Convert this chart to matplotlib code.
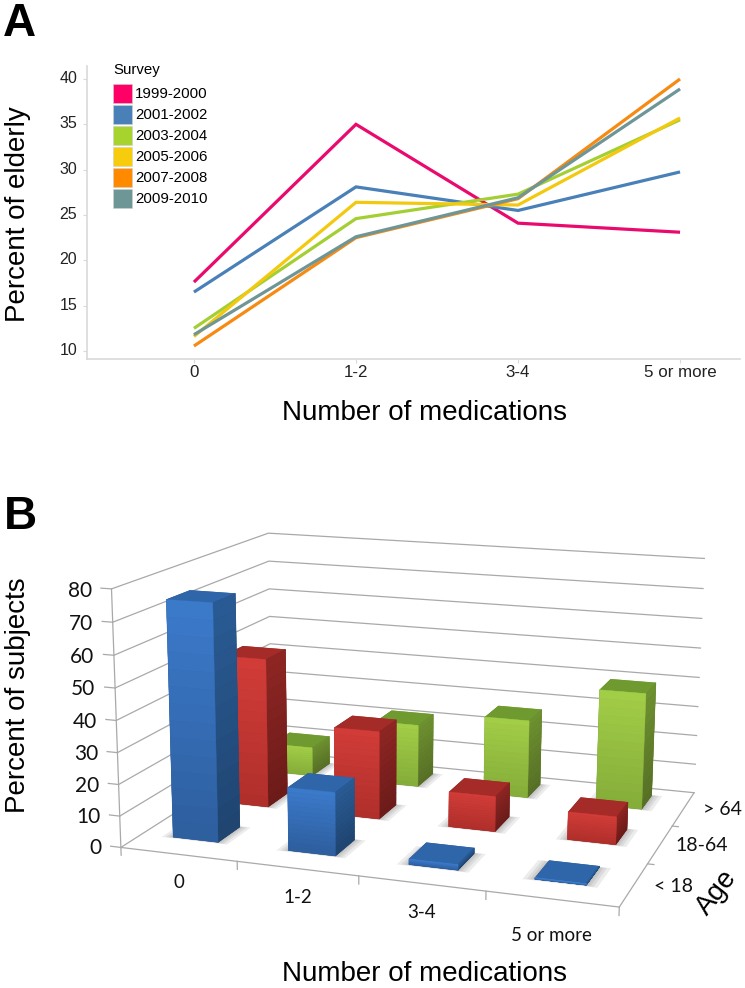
import numpy as np
import matplotlib
matplotlib.use('Agg')
import matplotlib.pyplot as plt
from matplotlib.patches import Patch
from matplotlib.colors import to_rgb
from matplotlib.transforms import ScaledTranslation
from mpl_toolkits.mplot3d import proj3d
from mpl_toolkits.mplot3d.art3d import Poly3DCollection

W, H = 745, 988

# ---------- data: panel A ----------
med_cats = ['0', '1-2', '3-4', '5 or more']
surveys = ['1999-2000', '2001-2002', '2003-2004', '2005-2006', '2007-2008', '2009-2010']
s1999 = [17.6, 35.0, 24.1, 23.1]
s2001 = [16.5, 28.1, 25.5, 29.75]
s2003 = [12.5, 24.6, 27.3, 35.5]
s2005 = [11.6, 26.4, 26.1, 35.7]
s2007 = [10.55, 22.5, 26.8, 40.0]
s2009 = [11.8, 22.6, 26.9, 38.9]
line_colors = ['#EA0A6E', '#4A80B8', '#A4CF33', '#F2C90F', '#F68A12', '#6F9696']
swatch_colors = ['#FF0066', '#4A80B8', '#A6D32E', '#F6CC0C', '#FF8A00', '#6F9696']
y_ticks_a = [10, 15, 20, 25, 30, 35, 40]

# ---------- data: panel B ----------
age_groups = ['< 18', '18-64', '> 64']
under18 = [75, 20, 1.8, 0.5]
adult = [49.5, 29, 11.5, 9]
elderly = [10, 21.5, 26.5, 39]
z_ticks_b = [0, 10, 20, 30, 40, 50, 60, 70, 80]

plt.rcParams['font.family'] = ['Liberation Sans', 'DejaVu Sans']
fig = plt.figure(figsize=(W/100, H/100), dpi=100, facecolor='white')

def px_box(l, t, r, b):
    return [l/W, 1-b/H, (r-l)/W, (b-t)/H]

# ---------- panel A ----------
ax = fig.add_axes(px_box(87, 66, 740, 359))
for vals, c in zip([s1999, s2001, s2003, s2005, s2007, s2009], line_colors):
    ax.plot(range(4), vals, color=c, lw=2.3, solid_capstyle='butt', solid_joinstyle='miter')
ax.set_xlim(-0.66, 3.37)
ax.set_ylim(10-8/9.07, 40+13/9.07)
ax.set_xticks(range(4), med_cats, fontsize=12.2)
ax.set_yticks(y_ticks_a)
ax.tick_params(axis='y', labelsize=11.5, length=3, color='#d9d9d9', pad=4, labelcolor='#222222')
ax.tick_params(axis='x', length=3, color='#d9d9d9', pad=1.5, labelcolor='#222222')
up = ScaledTranslation(0, 2/100, fig.dpi_scale_trans)
for lab in ax.get_yticklabels():
    lab.set_transform(lab.get_transform() + up)
for sp in ('top', 'right'):
    ax.spines[sp].set_visible(False)
for sp in ('left', 'bottom'):
    ax.spines[sp].set_color('#d9d9d9')
    ax.spines[sp].set_linewidth(1.2)
leg = ax.legend([Patch(facecolor=c, edgecolor='#d0d0d0', lw=.4) for c in swatch_colors], surveys,
                title='Survey', loc='upper left', bbox_to_anchor=((107-87)/653, 1-(57-66)/293),
                frameon=False, fontsize=10.8, title_fontsize=10.8, handlelength=1.27, handleheight=1.57,
                labelspacing=0.13, handletextpad=0.2, alignment='left', borderpad=0.4, borderaxespad=0)
leg._legend_box.sep = 5

# ---------- panel B ----------
EL, AZ, RL, FOCAL, BA, BB = 13.869, -71.529, -0.342, 0.517, 1.935, 1.452
S, X0, Y0 = 3477.06, 422.93, 290.17
side = S*0.185
b3 = fig.add_axes([(X0-S*0.095)/W, (Y0-S*0.095)/H, side/W, side/H], projection='3d')
b3.computed_zorder = False
b3.set_axis_off()
b3.patch.set_visible(False)
b3.set_xticks([]); b3.set_yticks([]); b3.set_zticks([])
GRID = '#a9a9a9'
z = 1
for t in z_ticks_b:
    b3.plot([0, 0, 4], [0, 3, 3], [t, t, t], color=GRID, lw=0.9, zorder=z)
    b3.plot([0, -0.09], [0, 0], [t, t], color=GRID, lw=0.9, zorder=z)
b3.plot([0, 0], [0, 0], [-2.5, 80], color=GRID, lw=0.9, zorder=z)
b3.plot([0, 4], [0, 0], [0, 0], color=GRID, lw=0.9, zorder=z)
b3.plot([4, 4], [0, 3], [0, 0], color=GRID, lw=0.9, zorder=z)
for i in range(1, 5):
    b3.plot([i, i], [0, 0], [0, -2.5], color=GRID, lw=0.9, zorder=z)
for j in range(1, 3):
    b3.plot([4, 4.05], [j, j], [0, 0], color=GRID, lw=0.9, zorder=z)

STYLES = {  # front top, front bottom, side top, side bottom, top face
    'elderly': ('#A3CE47', '#84AC3A', '#6E9130', '#566F26', '#6F9A30'),
    'adult': ('#D23C38', '#AF2E2A', '#8E2623', '#6B1B19', '#A42B28'),
    'under18': ('#3B7ACB', '#2E5E9D', '#2A5B95', '#1F446F', '#2F66AA'),
}
DX, DY = 0.395, 0.42
NS = 14
def mix(a, b, f):
    a, b = np.array(to_rgb(a)), np.array(to_rgb(b))
    return tuple(a + (b-a)*f)

z = 5
for j, (name, vals) in reversed(list(enumerate([('under18', under18), ('adult', adult), ('elderly', elderly)]))):
    ft, fb, st, sb, tp = STYLES[name]
    for i, h in enumerate(vals):
        x0, y0 = i + .47 - DX/2, j + .58 - DY/2
        x1, y1 = x0 + DX, y0 + DY
        # soft contact shadow on the floor
        for g in (0.09, 0.06, 0.035, 0.015):
            shadow = [[(x0-g, y0-g*.3, 0), (x1+g, y0-g*.3, 0), (x1+g, y1+g*.2, 0), (x0-g, y1+g*.2, 0)]]
            b3.add_collection3d(Poly3DCollection(shadow, facecolors=[(.3, .3, .3, .10)], edgecolors='none', zorder=z))
        z += 1
        b3.bar3d(x0, y0, 0, DX, DY, h, color=[sb, tp, fb, fb, sb, sb], shade=False, edgecolor='none', zorder=z)
        z += 1
        edges = np.linspace(0, h, NS+1)
        polys, cols = [], []
        for k in range(NS):
            za, zb = edges[k], edges[k+1]
            f = 1 - (k+.5)/NS
            polys.append([(x0, y0, za), (x1, y0, za), (x1, y0, zb), (x0, y0, zb)])
            cols.append(mix(ft, fb, f))
            polys.append([(x1, y0, za), (x1, y1, za), (x1, y1, zb), (x1, y0, zb)])
            cols.append(mix(st, sb, f))
        pc = Poly3DCollection(polys, facecolors=cols, edgecolors=cols, linewidths=0.3, zorder=z)
        b3.add_collection3d(pc)
        z += 1

b3.view_init(EL, AZ, RL)
b3.set_proj_type('persp', focal_length=FOCAL)
b3.set_box_aspect((BA, BB, 1), zoom=1)
b3.set_xlim(0, 4); b3.set_ylim(0, 3); b3.set_zlim(0, 80)

# tick labels: project the 3D anchor once, then place ordinary 2D text there
M = b3.get_proj()
TXT = dict(family=['Lato', 'DejaVu Sans'], color='#111111', zorder=z, transform=b3.transData)
def label3d(x, y, zz, s, **kw):
    u, v, _ = proj3d.proj_transform(x, y, zz, M)
    b3.text2D(u, v, s, va='center', **TXT, **kw)

for t in z_ticks_b:
    label3d(-0.17, 0, t-1, str(t), ha='right', fontsize=15)
for i, (c, off) in enumerate(zip(med_cats, [-9, -9, -9, -11])):
    label3d(i+.5, 0, off, c, ha='center', fontsize=13.5)
for j, (c, xp) in enumerate(zip(age_groups, [4.3, 4.33, 4.33])):
    label3d(xp, j+.5, 1, c, ha='center', fontsize=14)

fig.text(424/W, 1-413/H, 'Number of medications', fontsize=20, ha='center', va='center')
fig.text(18.5/W, 1-214/H, 'Percent of elderly', fontsize=20, ha='center', va='center', rotation=90)
fig.text(424/W, 1-974/H, 'Number of medications', fontsize=20, ha='center', va='center')
fig.text(18.5/W, 1-695/H, 'Percent of subjects', fontsize=20, ha='center', va='center', rotation=90)
fig.text(717/W, 1-893/H, 'Age', fontsize=20, ha='center', va='center', rotation=52)
fig.text(3/W, 1-36/H, 'A', fontsize=33, fontweight='bold', ha='left', va='baseline')
fig.text(4/W, 1-529/H, 'B', fontsize=33, fontweight='bold', ha='left', va='baseline')

fig.savefig('out.png', dpi=100)
